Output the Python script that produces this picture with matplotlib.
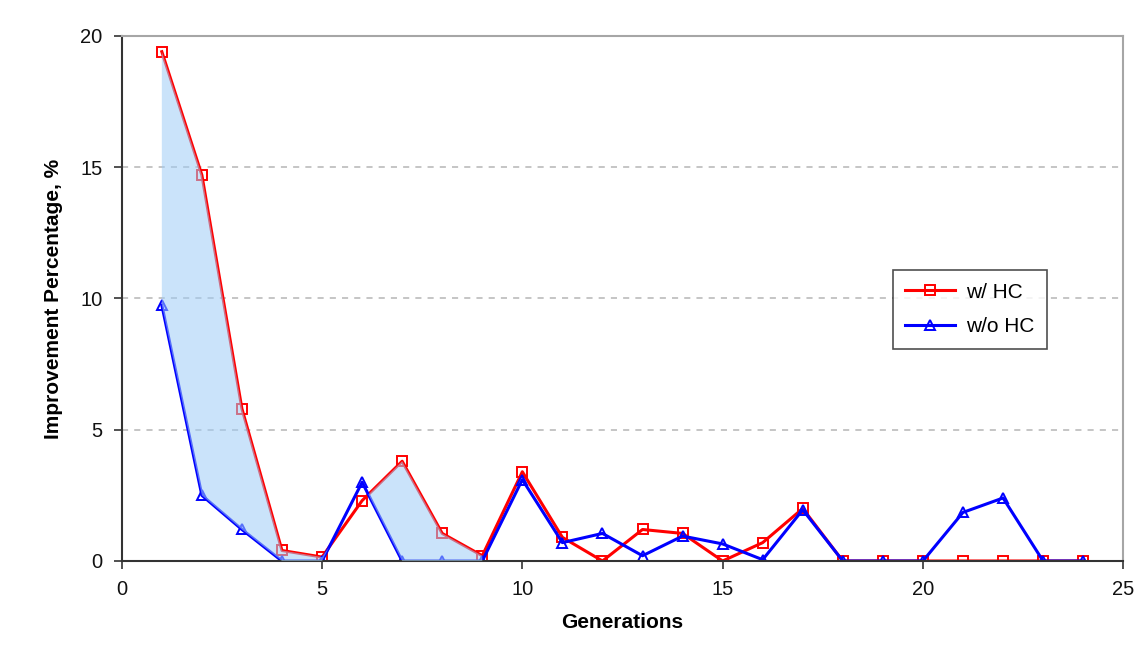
import numpy as np
import matplotlib
matplotlib.use("Agg")
import matplotlib.pyplot as plt

plt.rcParams["font.family"] = ["Liberation Sans", "DejaVu Sans"]

generations = list(range(1, 25))
with_hc = [19.4, 14.7, 5.8, 0.4, 0.15, 2.3, 3.8, 1.05, 0.2, 3.4, 0.9, 0.0,
           1.2, 1.05, 0.0, 0.7, 2.0, 0.0, 0.0, 0.0, 0.0, 0.0, 0.0, 0.0]
without_hc = [9.75, 2.5, 1.2, 0.0, 0.0, 3.0, 0.0, 0.0, 0.0, 3.1, 0.7, 1.05,
              0.2, 0.95, 0.65, 0.05, 1.95, 0.0, 0.0, 0.0, 1.85, 2.4, 0.0, 0.0]
fill_upto = 9  # shaded gap only over the first generations

x = np.array(generations)
a = np.array(with_hc)
b = np.array(without_hc)

fig = plt.figure(figsize=(11.38, 6.49), dpi=100)
ax = fig.add_axes([0.107, 0.1356, 0.880, 0.809])

ax.plot(x, a, color="#ff0000", lw=2.2, marker="s", ms=7.5, mfc="none",
        mew=1.4, label="w/ HC", zorder=2)
ax.plot(x, b, color="#0000ff", lw=2.2, marker="^", ms=7.5, mfc="none",
        mew=1.4, label="w/o HC", zorder=2.5)

m = x <= fill_upto
ax.fill_between(x[m], a[m], b[m], where=a[m] >= b[m], interpolate=True,
                color="#9fcdf7", alpha=0.55, lw=0, zorder=3)

ax.set_xlim(0, 25)
ax.set_ylim(0, 20)
ax.set_xticks(range(0, 26, 5))
ax.set_yticks(range(0, 21, 5))
ax.tick_params(axis="both", direction="out", length=6, width=1.2,
               labelsize=14.5, color="#333333", labelcolor="#111111")
ax.tick_params(axis="x", pad=8)
ax.tick_params(axis="y", pad=8)

for y in (5, 10, 15):
    ax.axhline(y, color="#b5b5b5", lw=1.1, dashes=(4, 4), zorder=0)

ax.spines["left"].set_color("#333333")
ax.spines["bottom"].set_color("#333333")
ax.spines["top"].set_color("#a6a6a6")
ax.spines["right"].set_color("#a6a6a6")
for s in ax.spines.values():
    s.set_linewidth(1.5)

ax.set_xlabel("Generations", fontsize=15, fontweight="bold", labelpad=10)
ax.set_ylabel("Improvement Percentage, %", fontsize=15, fontweight="bold",
              labelpad=12)

leg = ax.legend(loc="upper left", bbox_to_anchor=(0.770, 0.554), fontsize=15,
                frameon=True, fancybox=False, edgecolor="#222222",
                handlelength=2.4, borderpad=0.6, labelspacing=0.75,
                handletextpad=0.5, borderaxespad=0)
leg.get_frame().set_linewidth(1.2)

fig.savefig("out.png", dpi=100)
